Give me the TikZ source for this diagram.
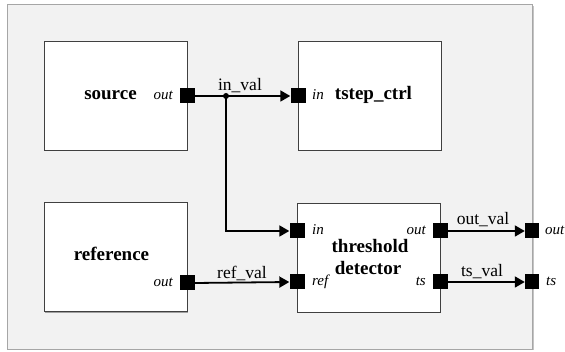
\documentclass[tikz,border=0pt]{standalone}
\usepackage{fontspec}
\setmainfont{Liberation Serif}
\usetikzlibrary{arrows.meta,shadows}
\definecolor{framefill}{HTML}{F2F2F2}
\definecolor{frameline}{HTML}{A6A6A6}
\definecolor{frameshadow}{HTML}{C4C4C4}
\definecolor{boxline}{HTML}{404040}
\definecolor{boxshadow}{HTML}{A0A0A0}
\begin{document}
\begin{tikzpicture}[x=1pt,y=-1pt,
  block/.style={draw=boxline, line width=0.8pt, fill=white, minimum width=143pt, minimum height=109pt, inner sep=0pt,
    drop shadow={shadow xshift=1.2pt, shadow yshift=-1.2pt, fill=boxshadow, opacity=1}},
  port/.style={fill=black, draw=none, minimum width=15pt, minimum height=15pt, inner sep=0pt},
  title/.style={font=\fontsize{19}{22.3}\selectfont\bfseries, inner sep=0pt, anchor=base},
  plabel/.style={font=\fontsize{15}{17}\selectfont\itshape, inner sep=0pt},
  slabel/.style={font=\fontsize{17.5}{20}\selectfont, inner sep=0pt, anchor=base},
  conn/.style={line width=1.8pt, -{Triangle[length=10pt,width=11pt]}},
  dot/.style={circle, fill=black, minimum size=6pt, inner sep=0pt}]
\useasboundingbox (0,0) rectangle (565,352);
% frame
\fill[frameshadow] (9,6) rectangle (533.5,350.5);
\filldraw[fill=framefill, draw=frameline, line width=0.8pt] (7,4) rectangle (532,349);
% blocks
\node[block] (src) at (115.5,95.5) {};
\node[block] (tst) at (369.5,95.5) {};
\node[block] (ref) at (115.5,257) {};
\node[block] (thr) at (368.5,257.5) {};
% titles
\node[title] (srct) at (110.5,100) {source};
\node[title] (tstt) at (373.5,100) {tstep\_ctrl};
\node[title] (reft) at (111.5,261) {reference};
\node[title] (thrt1) at (370,252.7) {threshold};
\node[title] (thrt2) at (368,275) {detector};
% ports
\node[port] (srcout) at (187,96) {};
\node[port] (tstin) at (298,96) {};
\node[port] (refout) at (187,283) {};
\node[port] (thrin) at (297,231) {};
\node[port] (thrref) at (297,282) {};
\node[port] (throut) at (440,231) {};
\node[port] (thrts) at (440,282) {};
\node[port, minimum width=14pt] (extout) at (532,231) {};
\node[port, minimum width=14pt] (extts) at (532,282) {};
% port labels
\node[plabel, anchor=base east] (lsrcout) at (173,99.5) {out};
\node[plabel, anchor=base west] (ltstin) at (312,99.5) {in};
\node[plabel, anchor=base east] (lrefout) at (173,286.5) {out};
\node[plabel, anchor=base west] (lthrin) at (312,234.5) {in};
\node[plabel, anchor=base west] (lthrref) at (312,285.5) {ref};
\node[plabel, anchor=base east] (lthrout) at (426,234.5) {out};
\node[plabel, anchor=base east] (lthrts) at (426,285.5) {ts};
\node[plabel, anchor=base west] (lextout) at (545,234.5) {out};
\node[plabel, anchor=base west] (lextts) at (546,285.5) {ts};
% connectors
\node[dot] (j) at (226,96) {};
\draw[conn] (srcout.east) -- (tstin.west);
\draw[conn] (j.center) |- (thrin.west);
\draw[conn] (refout.east) -- (thrref.west);
\draw[conn] (throut.east) -- (extout.west);
\draw[conn] (thrts.east) -- (extts.west);
% signal labels
\node[slabel] (linval) at (240,91) {in\_val};
\node[slabel] (lrefval) at (242,278.3) {ref\_val};
\node[slabel] (loutval) at (483,224.3) {out\_val};
\node[slabel] (ltsval) at (482,276.7) {ts\_val};
\end{tikzpicture}
\end{document}
